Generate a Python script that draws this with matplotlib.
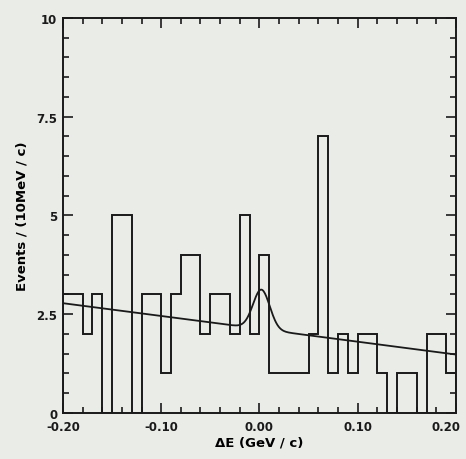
import numpy as np
import matplotlib
matplotlib.use("Agg")
import matplotlib.pyplot as plt
import matplotlib.transforms as mtransforms
from matplotlib.ticker import MultipleLocator

# Histogram of Delta E, 10 MeV bins from -0.20 to 0.20 GeV
bin_lo = -0.20
bin_width = 0.01
counts = [3, 3, 2, 3, 0, 5, 5, 0, 3, 3,
          1, 3, 4, 4, 2, 3, 3, 2, 5, 2,
          4, 1, 1, 1, 1, 2, 7, 1, 2, 1,
          2, 2, 1, 0, 1, 1, 0, 2, 2, 1]

# Fit: linear background plus Gaussian signal
bkg_left = 2.78
bkg_right = 1.48
sig_amp = 1.0
sig_mean = 0.002
sig_sigma = 0.0085

edges = bin_lo + bin_width * np.arange(len(counts) + 1)

bg = "#e9ece7"
fig = plt.figure(figsize=(4.66, 4.60), dpi=100, facecolor=bg)
ax = fig.add_axes([0.135, 0.10, 0.8435, 0.8587], facecolor=bg)

ax.stairs(counts, edges, color="#1a1a1a", linewidth=1.4, baseline=0)

x = np.linspace(edges[0], edges[-1], 600)
bkg = bkg_left + (bkg_right - bkg_left) * (x - edges[0]) / (edges[-1] - edges[0])
fit = bkg + sig_amp * np.exp(-0.5 * ((x - sig_mean) / sig_sigma) ** 2)
ax.plot(x, fit, color="#1a1a1a", linewidth=1.3)

ax.set_xlim(-0.20, 0.20)
ax.set_ylim(0, 10)
ax.set_xticks([-0.20, -0.10, 0.00, 0.10, 0.20])
ax.set_xticklabels(["-0.20", "-0.10", "0.00", "0.10", "0.20"])
ax.set_yticks([0, 2.5, 5, 7.5, 10])
ax.set_yticklabels(["0", "2.5", "5", "7.5", "10"])
ax.xaxis.set_minor_locator(MultipleLocator(0.02))
ax.yaxis.set_minor_locator(MultipleLocator(0.5))
ax.tick_params(which="both", direction="in", top=True, right=True,
               width=1.2, colors="#1a1a1a", labelsize=8.5)
ax.tick_params(axis="x", pad=5)
ax.tick_params(axis="y", pad=4)
ax.tick_params(which="major", length=7)
ax.tick_params(which="minor", length=4)
for lab in ax.get_xticklabels() + ax.get_yticklabels():
    lab.set_fontweight("bold")
    lab.set_family("DejaVu Sans")

# keep the last x label inside the figure edge
last = ax.get_xticklabels()[-1]
last.set_transform(last.get_transform() +
                   mtransforms.ScaledTranslation(-10 / 100, 0, fig.dpi_scale_trans))

for s in ax.spines.values():
    s.set_linewidth(1.4)
    s.set_color("#1a1a1a")

ax.set_xlabel("ΔE (GeV / c)", fontsize=9.5, fontweight="bold",
              family="DejaVu Sans", labelpad=2)
ax.set_ylabel("Events / (10MeV / c)", fontsize=9.5, fontweight="bold",
              family="DejaVu Sans", labelpad=6)

fig.savefig("out.png", dpi=100, facecolor=bg)
